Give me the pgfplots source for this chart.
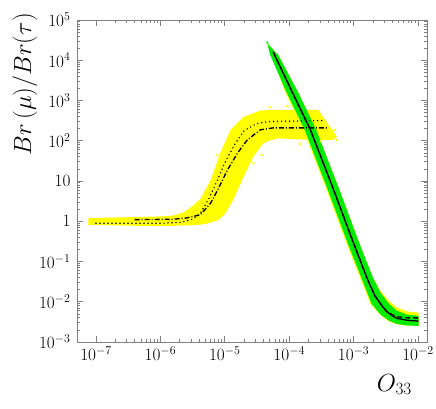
\documentclass[border=0pt]{standalone}
\usepackage{pgfplots}
\pgfplotsset{compat=1.18}
\definecolor{bandyellow}{RGB}{255,255,0}
\definecolor{bandgreen}{RGB}{0,235,0}
\definecolor{axisgray}{RGB}{128,128,128}
\newcommand{\tl}[1]{{\fontsize{18}{20}\selectfont$#1$}}

\begin{document}
\begin{tikzpicture}
\useasboundingbox (-77bp,-67bp) rectangle (359bp,342bp);
\begin{axis}[
  at={(0,0)}, anchor=south west,
  scale only axis, width=350bp, height=322bp,
  xmode=log, ymode=log,
  xmin=5.07e-8, xmax=1.38e-2, ymin=1e-3, ymax=1e5,
  xtick={1e-7,1e-6,1e-5,1e-4,1e-3,1e-2},
  xticklabels={\tl{10^{-7}},\tl{10^{-6}},\tl{10^{-5}},\tl{10^{-4}},\tl{10^{-3}},\tl{10^{-2}}},
  ytick={1e-3,1e-2,1e-1,1,10,100,1e3,1e4,1e5},
  yticklabels={\tl{10^{-3}},\tl{10^{-2}},\tl{10^{-1}},\tl{1},\tl{10},\tl{10^{2}},\tl{10^{3}},\tl{10^{4}},\tl{10^{5}}},
  axis line style={axisgray, line width=0.9bp},
  every tick/.style={axisgray, line width=0.7bp},
  major tick length=6bp, minor tick length=3.5bp,
  tick label style={black},
  xticklabel style={yshift=-1bp},
  yticklabel style={xshift=-3bp},
]
% yellow band, left set
\addplot[fill=bandyellow, draw=none] coordinates {
  (7.586e-8,1.202) (3.162e-7,1.259) (1e-6,1.318) (1.585e-6,1.380) (2.291e-6,1.660)
  (3.162e-6,2.399) (4.169e-6,3.548) (6.026e-6,10.47) (8.511e-6,50.12) (1.230e-5,186.2)
  (1.950e-5,389.0) (3.548e-5,562.3) (6.310e-5,588.8) (2.818e-4,588.8) (5.495e-4,125.9)
  (4.786e-4,104.7) (1.585e-4,107.2) (6.607e-5,114.8) (4.786e-5,100) (3.981e-5,87.10)
  (2.754e-5,39.81) (1.950e-5,12.59) (1.349e-5,3.388) (1e-5,1.514) (7.943e-6,1.072)
  (5.012e-6,0.851) (3.236e-6,0.7943) (1e-6,0.7586) (3.162e-7,0.7762) (7.586e-8,0.8128)
  (7.586e-8,1.202)};
\addplot[only marks, mark=asterisk, mark size=1.6bp, bandyellow] coordinates {
  (5.012e-5,676.1) (9.333e-5,724.4) (1.479e-4,83.18) (3.090e-4,95.50) (5.012e-4,186.2)
  (5.495e-4,104.7) (3.715e-5,44.67) (2.754e-5,28.18) (7.586e-6,44.67) (1.023e-5,53.70)
  (1.380e-5,4.467)};
% yellow under the green band
\addplot[fill=bandyellow, draw=none] coordinates {
  (4.571e-5,2.630e4) (6.761e-5,1.349e4) (1.380e-4,1585) (2.630e-4,186.2) (6.026e-4,6.026)
  (1.230e-3,0.2818) (1.995e-3,0.03981) (2.630e-3,0.01820) (3.548e-3,0.01047)
  (4.677e-3,7.244e-3) (6.761e-3,5.754e-3) (1.023e-2,5.370e-3)
  (1.023e-2,2.512e-3) (6.761e-3,2.570e-3) (4.677e-3,2.754e-3) (3.548e-3,3.236e-3)
  (2.570e-3,4.786e-3) (1.820e-3,8.913e-3) (1.259e-3,0.03981) (7.762e-4,0.2818)
  (3.802e-4,6.026) (1.660e-4,186.2) (8.710e-5,1585) (4.571e-5,2.630e4)};
% green band
\addplot[fill=bandgreen, draw=none] coordinates {
  (4.571e-5,2.630e4) (6.761e-5,1.349e4) (1.380e-4,1585) (2.630e-4,186.2) (6.026e-4,6.026)
  (1.230e-3,0.2818) (1.995e-3,0.03981) (2.630e-3,0.01660) (3.548e-3,8.913e-3)
  (4.677e-3,6.026e-3) (6.761e-3,4.786e-3) (1.023e-2,4.467e-3)
  (1.023e-2,2.512e-3) (6.761e-3,2.570e-3) (4.677e-3,2.818e-3) (3.548e-3,3.388e-3)
  (2.630e-3,4.786e-3) (1.905e-3,8.913e-3) (1.318e-3,0.03981) (8.128e-4,0.2818)
  (3.981e-4,6.026) (1.738e-4,186.2) (9.120e-5,1585) (5.012e-5,1.413e4) (4.571e-5,2.630e4)};
\addplot[only marks, mark=asterisk, mark size=1.6bp, bandgreen] coordinates {
  (4.571e-5,2.754e4) (1.175e-4,1820) (2.570e-3,0.01585) (1.549e-3,0.07943)};
% dotted curve
\addplot[black, line width=1.6bp, line cap=round, dash pattern=on 0bp off 4bp] coordinates {
  (1e-7,0.8913) (1e-6,0.8913) (1.995e-6,0.9333) (3.162e-6,1.122) (4.169e-6,1.585)
  (5.623e-6,3.548) (7.586e-6,10) (1e-5,28.18) (1.413e-5,79.43) (1.995e-5,177.8)
  (3.162e-5,269.2) (5.012e-5,302.0) (3.236e-4,316.2)};
% dash-dotted curve
\addplot[black, line width=1.3bp, dash pattern=on 5bp off 2bp on 1bp off 2bp] coordinates {
  (3.981e-7,1.096) (1.585e-6,1.122) (2.512e-6,1.202) (4.169e-6,1.445) (6.026e-6,2.818)
  (7.762e-6,6.026) (1.096e-5,18.62) (1.585e-5,50.12) (2.239e-5,104.7) (3.548e-5,186.2)
  (5.623e-5,208.9) (4.074e-4,208.9)};
% solid curve
\addplot[black, line width=1.3bp] coordinates {
  (5.623e-5,1.622e4) (1.122e-4,1585) (2.138e-4,186.2) (4.898e-4,6.026) (1e-3,0.2818)
  (1.622e-3,0.03802) (2.138e-3,0.01413) (2.818e-3,7.586e-3) (3.311e-3,5.623e-3)
  (3.981e-3,4.467e-3) (4.677e-3,3.890e-3) (6.761e-3,3.467e-3) (1.023e-2,3.311e-3)};
% dashed curve
\addplot[black, line width=1.3bp, dash pattern=on 5bp off 3bp] coordinates {
  (5.623e-5,1.622e4) (1.122e-4,1585) (2.138e-4,186.2) (4.898e-4,6.026) (1e-3,0.2818)
  (1.622e-3,0.03802) (2.138e-3,0.01413) (2.818e-3,7.586e-3) (3.311e-3,5.623e-3)
  (3.981e-3,4.786e-3) (4.677e-3,4.266e-3) (6.761e-3,3.981e-3) (1.023e-2,3.981e-3)};
\end{axis}
\node[rotate=90, anchor=east, inner sep=0, font=\fontsize{23}{26}\selectfont] at (-52bp,329bp) {$Br\,(\mu)/Br(\tau)$};
\node[anchor=base east, inner sep=0, font=\fontsize{23}{26}\selectfont] at (335bp,-49bp) {$O_{33}$};
\end{tikzpicture}
\end{document}
